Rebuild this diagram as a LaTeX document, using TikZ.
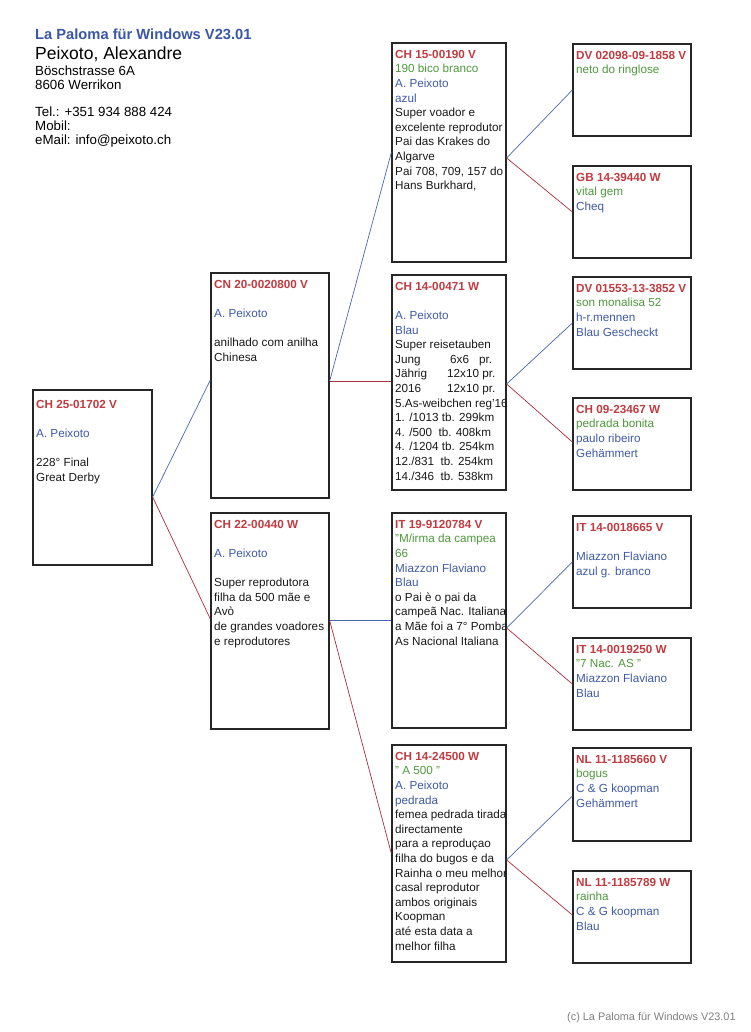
\documentclass[tikz,border=0pt]{standalone}
\usepackage{fontspec}
\setmainfont{Liberation Sans}
\definecolor{pr}{HTML}{C23B40}
\definecolor{pg}{HTML}{4E9A3C}
\definecolor{pb}{HTML}{3F5AA6}
\definecolor{ptitle}{HTML}{3B57A8}
\definecolor{lblue}{HTML}{4A68B0}
\definecolor{lred}{HTML}{A8303E}
\newcommand\rno[1]{{\bfseries\color{pr}#1}}
\newcommand\gtx[1]{{\color{pg}#1}}
\newcommand\btx[1]{{\color{pb}#1}}
\tikzset{
 pbox/.style={draw=black!85, line width=1.3pt, rectangle, inner sep=0pt},
 ptext/.style={anchor=north west, align=left, inner sep=0pt, font=\fontsize{11.7}{14.6}\selectfont, text=black!90},
 hdr/.style={anchor=base west, inner sep=0pt},
 sire/.style={draw=lblue, line width=0.7pt},
 dam/.style={draw=lred, line width=0.7pt},
}
\begin{document}
\begin{tikzpicture}[x=1pt,y=-1pt]
\useasboundingbox (0,0) rectangle (750,1032);
\fill[white] (0,0) rectangle (750,1032);

% header
\node[hdr, font=\fontsize{14.7}{16}\selectfont\bfseries, text=ptitle] (title) at (35,40) {La Paloma für Windows V23.01};
\node[hdr, font=\fontsize{17.5}{19}\selectfont] (name) at (35,59.5) {Peixoto, Alexandre};
\node[hdr, font=\fontsize{13.3}{14}\selectfont] (street) at (35,76) {Böschstrasse 6A};
\node[hdr, font=\fontsize{13.3}{14}\selectfont] (city) at (35,89.5) {8606 Werrikon};
\node[hdr, font=\fontsize{13.3}{14}\selectfont] (tel) at (35,117) {Tel.: +351 934 888 424};
\node[hdr, font=\fontsize{13.3}{14}\selectfont] (mob) at (35,131) {Mobil:};
\node[hdr, font=\fontsize{13.3}{14}\selectfont] (mail) at (35,145) {eMail: info@peixoto.ch};

% boxes
\node[pbox, minimum width=119pt, minimum height=175pt] (R) at (92.5,477.5) {};
\node[pbox, minimum width=118pt, minimum height=225pt] (A) at (270,385.5) {};
\node[pbox, minimum width=118pt, minimum height=216pt] (B) at (270,621) {};
\node[pbox, minimum width=114pt, minimum height=219pt] (C1) at (449,152.5) {};
\node[pbox, minimum width=114pt, minimum height=215pt] (C2) at (449,382.5) {};
\node[pbox, minimum width=114pt, minimum height=215pt] (C3) at (449,620.5) {};
\node[pbox, minimum width=114pt, minimum height=217pt] (C4) at (449,853.5) {};
\node[pbox, minimum width=118pt, minimum height=92pt] (D1) at (632,90) {};
\node[pbox, minimum width=118pt, minimum height=92pt] (D2) at (632,212) {};
\node[pbox, minimum width=118pt, minimum height=92pt] (D3) at (632,323) {};
\node[pbox, minimum width=118pt, minimum height=92pt] (D4) at (632,444) {};
\node[pbox, minimum width=118pt, minimum height=92pt] (D5) at (632,562) {};
\node[pbox, minimum width=118pt, minimum height=92pt] (D6) at (632,684) {};
\node[pbox, minimum width=118pt, minimum height=93pt] (D7) at (632,794.5) {};
\node[pbox, minimum width=118pt, minimum height=92pt] (D8) at (632,917) {};

% texts
\node[ptext] (Rt) at (36,400) {\rno{CH 25-01702 V}\\ \mbox{}\\ \btx{A. Peixoto}\\ \mbox{}\\ 228° Final\\ Great Derby};
\node[ptext] (At) at (214,280) {\rno{CN 20-0020800 V}\\ \mbox{}\\ \btx{A. Peixoto}\\ \mbox{}\\ anilhado com anilha\\ Chinesa};
\node[ptext] (Bt) at (214,520) {\rno{CH 22-00440 W}\\ \mbox{}\\ \btx{A. Peixoto}\\ \mbox{}\\ Super reprodutora\\ filha da 500 mãe e\\ Avò\\ de grandes voadores\\ e reprodutores};
\node[ptext] (C1t) at (395,50) {\rno{CH 15-00190 V}\\ \gtx{190 bico branco}\\ \btx{A. Peixoto}\\ \btx{azul}\\ Super voador e\\ excelente reprodutor\\ Pai das Krakes do\\ Algarve\\ Pai 708, 709, 157 do\\ Hans Burkhard,};
\node[ptext] (C2t) at (395,282) {\rno{CH 14-00471 W}\\ \mbox{}\\ \btx{A. Peixoto}\\ \btx{Blau}\\ Super reisetauben\\ \makebox[55pt][l]{Jung}6x6\hspace{10pt}pr.\\ \makebox[52pt][l]{Jährig}12x10 pr.\\ \makebox[52pt][l]{2016}12x10 pr.\\ 5.As-weibchen reg'16\\ 1. /1013 tb. 299km\\ 4. /500\ \ tb. 408km\\ 4. /1204 tb. 254km\\ 12./831\ \ tb. 254km\\ 14./346\ \ tb. 538km};
\begin{scope}
\clip (C3.north west) rectangle (C3.south east);
\node[ptext] (C3t) at (395,520) {\rno{IT 19-9120784 V}\\ \gtx{"M/irma da campea}\\ \gtx{66}\\ \btx{Miazzon Flaviano}\\ \btx{Blau}\\ o Pai è o pai da\\ campeã Nac. Italiana\\ a Mãe foi a 7° Pomba\\ As Nacional Italiana};
\end{scope}
\begin{scope}
\clip (C4.north west) rectangle (C4.south east);
\node[ptext] (C4t) at (395,752) {\rno{CH 14-24500 W}\\ \gtx{" A 500 "}\\ \btx{A. Peixoto}\\ \btx{pedrada}\\ femea pedrada tirada\\ directamente\\ para a reproduçao\\ filha do bugos e da\\ Rainha o meu melhor\\ casal reprodutor\\ ambos originais\\ Koopman\\ até esta data a\\ melhor filha};
\end{scope}
\node[ptext] (D1t) at (576,51) {\rno{DV 02098-09-1858 V}\\ \gtx{neto do ringlose}};
\node[ptext] (D2t) at (576,173) {\rno{GB 14-39440 W}\\ \gtx{vital gem}\\ \btx{Cheq}};
\node[ptext] (D3t) at (576,284) {\rno{DV 01553-13-3852 V}\\ \gtx{son monalisa 52}\\ \btx{h-r.mennen}\\ \btx{Blau Gescheckt}};
\node[ptext] (D4t) at (576,405) {\rno{CH 09-23467 W}\\ \gtx{pedrada bonita}\\ \btx{paulo ribeiro}\\ \btx{Gehämmert}};
\node[ptext] (D5t) at (576,523) {\rno{IT 14-0018665 V}\\ \mbox{}\\ \btx{Miazzon Flaviano}\\ \btx{azul g. branco}};
\node[ptext] (D6t) at (576,645) {\rno{IT 14-0019250 W}\\ \gtx{"7 Nac. AS "}\\ \btx{Miazzon Flaviano}\\ \btx{Blau}};
\node[ptext] (D7t) at (576,755) {\rno{NL 11-1185660 V}\\ \gtx{bogus}\\ \btx{C \& G koopman}\\ \btx{Gehämmert}};
\node[ptext] (D8t) at (576,878) {\rno{NL 11-1185789 W}\\ \gtx{rainha}\\ \btx{C \& G koopman}\\ \btx{Blau}};

% connectors
\draw[sire] ([yshift=-19.5pt]R.east) -- ([yshift=5.5pt]A.west);
\draw[dam]  ([yshift=-19.5pt]R.east) -- ([yshift=2pt]B.west);
\draw[sire] ([yshift=4.5pt]A.east) -- (C1.west);
\draw[dam]  ([yshift=4.5pt]A.east) -- ([yshift=1.5pt]C2.west);
\draw[sire] ([yshift=0.5pt]B.east) -- (C3.west);
\draw[dam]  ([yshift=0.5pt]B.east) -- (C4.west);
\draw[sire] ([yshift=-5.5pt]C1.east) -- (D1.west);
\draw[dam]  ([yshift=-5.5pt]C1.east) -- (D2.west);
\draw[sire] ([yshift=-1.5pt]C2.east) -- (D3.west);
\draw[dam]  ([yshift=-1.5pt]C2.east) -- ([yshift=2pt]D4.west);
\draw[sire] ([yshift=-7.5pt]C3.east) -- (D5.west);
\draw[dam]  ([yshift=-7.5pt]C3.east) -- (D6.west);
\draw[sire] ([yshift=-6.5pt]C4.east) -- ([yshift=-1.5pt]D7.west);
\draw[dam]  ([yshift=-6.5pt]C4.east) -- ([yshift=2pt]D8.west);

% footer
\node[hdr, font=\fontsize{10.9}{12}\selectfont, text=black!50] (foot) at (567,1020) {(c) La Paloma für Windows V23.01};
\end{tikzpicture}
\end{document}
